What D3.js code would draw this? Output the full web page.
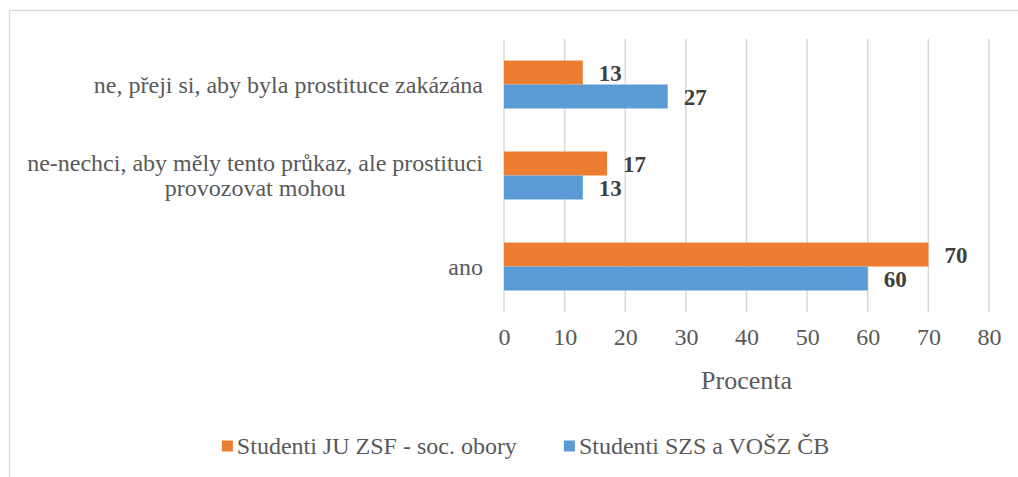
<!DOCTYPE html>
<html>
<head>
<meta charset="utf-8">
<script src="https://cdn.jsdelivr.net/npm/d3@7"></script>
<style>
  body { margin: 0; background: #fff; }
  svg text { font-family: "Liberation Serif", "Times New Roman", "DejaVu Serif", serif; }
</style>
</head>
<body>
<div id="graph"></div>
<script>
// data, top to bottom
var categories = [
  "ne, přeji si, aby byla prostituce zakázána",
  "ne-nechci, aby měly tento průkaz, ale prostituci provozovat mohou",
  "ano"
];
var seriesNames = ["Studenti JU ZSF - soc. obory", "Studenti SZS a VOŠZ ČB"];
var seriesColors = ["#ED7D31", "#5B9BD5"];
var zsfValues = [13, 17, 70];
var szsValues = [27, 13, 60];
var xTicks = [0, 10, 20, 30, 40, 50, 60, 70, 80];

var FONT = "'Liberation Serif', 'Times New Roman', serif";
var W = 1018, H = 477;
var plot = { left: 504, right: 989, top: 39, bottom: 312 };

var svg = d3.select("#graph")
  .append("svg")
    .attr("width", W)
    .attr("height", H)
    .style("display", "block");

// chart frame (runs off the right and bottom edge)
svg.append("rect")
  .attr("x", 9.5).attr("y", 10.5)
  .attr("width", W + 20).attr("height", H + 20)
  .attr("fill", "none")
  .attr("stroke", "#d9d9d9")
  .attr("stroke-width", 1.3);

var x = d3.scaleLinear().domain([0, 80]).range([plot.left, plot.right]);

var y = d3.scaleBand()
  .domain(categories)
  .range([plot.top, plot.bottom])
  .paddingInner(0.473)
  .paddingOuter(0.2365);

var ySub = d3.scaleBand()
  .domain([0, 1])
  .range([0, y.bandwidth()]);

// gridlines
svg.append("g")
  .selectAll("line")
  .data(xTicks)
  .enter()
  .append("line")
    .attr("x1", d => x(d)).attr("x2", d => x(d))
    .attr("y1", plot.top).attr("y2", plot.bottom)
    .attr("stroke", "#d9d9d9")
    .attr("stroke-width", 1.5);

// x axis labels
var xAxisG = svg.append("g")
  .attr("transform", `translate(0, ${plot.bottom})`)
  .call(d3.axisBottom(x).tickValues(xTicks).tickSize(0).tickPadding(16))
  .attr("font-family", FONT);
xAxisG.select(".domain").remove();
xAxisG.selectAll("text")
  .attr("dy", "0.72em")
  .style("font-family", FONT)
  .style("font-size", "24px")
  .style("fill", "#595959");

// axis title
svg.append("text")
  .attr("x", (plot.left + plot.right) / 2)
  .attr("y", 389)
  .attr("text-anchor", "middle")
  .style("font-family", FONT)
  .style("font-size", "26px")
  .style("fill", "#595959")
  .text("Procenta");

// category labels, wrapped, lines centered within a right-aligned block
var labelRight = 483, lineH = 25, maxW = 470;
categories.forEach(function(cat) {
  var g = svg.append("g");
  var words = cat.split(" "), lines = [], cur = "";
  var probe = g.append("text").style("font-family", FONT).style("font-size", "24px");
  words.forEach(function(w) {
    var test = cur ? cur + " " + w : w;
    probe.text(test);
    if (probe.node().getComputedTextLength() > maxW && cur) {
      lines.push(cur);
      cur = w;
    } else {
      cur = test;
    }
  });
  lines.push(cur);
  var widths = lines.map(function(l) {
    probe.text(l);
    return probe.node().getComputedTextLength();
  });
  probe.remove();
  var blockW = d3.max(widths);
  var cy = y(cat) + y.bandwidth() / 2;
  var y0 = cy - (lines.length - 1) * lineH / 2;
  lines.forEach(function(l, i) {
    g.append("text")
      .attr("x", labelRight - blockW / 2)
      .attr("y", y0 + i * lineH)
      .attr("dy", "0.35em")
      .attr("text-anchor", "middle")
      .style("font-family", FONT)
      .style("font-size", "24px")
      .style("fill", "#595959")
      .text(l);
  });
});

// bars
var rows = categories.map((c, i) => ({ cat: c, vals: [zsfValues[i], szsValues[i]] }));

var groups = svg.selectAll(".grp")
  .data(rows)
  .enter()
  .append("g")
    .attr("class", "grp")
    .attr("transform", d => `translate(0, ${y(d.cat)})`);

groups.selectAll("rect")
  .data(d => d.vals.map((v, s) => ({ v: v, s: s })))
  .enter()
  .append("rect")
    .attr("x", x(0))
    .attr("y", d => ySub(d.s))
    .attr("width", d => x(d.v) - x(0))
    .attr("height", ySub.bandwidth())
    .attr("fill", d => seriesColors[d.s]);

// value labels
groups.selectAll(".val")
  .data(d => d.vals.map((v, s) => ({ v: v, s: s })))
  .enter()
  .append("text")
    .attr("class", "val")
    .attr("x", d => x(d.v) + 16)
    .attr("y", d => ySub(d.s) + ySub.bandwidth() / 2)
    .attr("dy", "0.35em")
    .style("font-family", FONT)
    .style("font-size", "23px")
    .style("font-weight", "bold")
    .style("fill", "#404040")
    .text(d => d.v);

// legend
var legend = svg.append("g").attr("transform", "translate(0, 446)");
var items = legend.selectAll(".item")
  .data(seriesNames)
  .enter()
  .append("g")
    .attr("class", "item");
items.append("rect")
  .attr("x", 0).attr("y", -5.5)
  .attr("width", 11).attr("height", 11)
  .attr("fill", (d, i) => seriesColors[i]);
items.append("text")
  .attr("x", 15)
  .attr("dy", "0.35em")
  .style("font-family", FONT)
  .style("font-size", "24px")
  .style("fill", "#595959")
  .text(d => d);

var gap = 47, pos = 0, offsets = [];
items.each(function() {
  offsets.push(pos);
  pos += this.getBBox().width + gap;
});
var totalW = pos - gap;
var startX = 525.5 - totalW / 2;
items.attr("transform", (d, i) => `translate(${startX + offsets[i]}, 0)`);
</script>
</body>
</html>
